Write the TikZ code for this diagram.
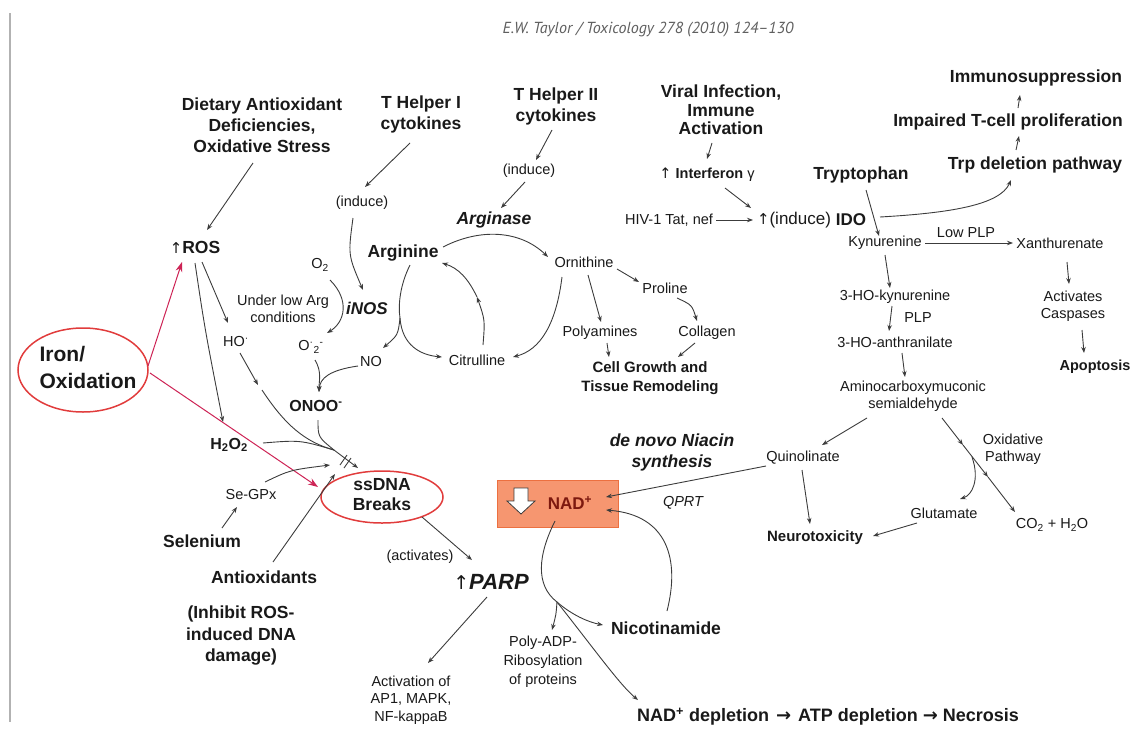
\documentclass[tikz,border=0pt]{standalone}
\usepackage{fontspec}
\setmainfont{Liberation Sans}
\newfontfamily\hdrfont{PT Sans}
\newfontfamily\arrfont{DejaVu Sans}
\usetikzlibrary{arrows.meta,shapes.geometric}
\definecolor{ln}{RGB}{60,60,60}
\definecolor{txt}{RGB}{25,25,25}
\definecolor{redarr}{RGB}{205,35,85}
\definecolor{ellred}{RGB}{225,60,60}
\definecolor{nadfill}{RGB}{246,150,112}
\definecolor{naddraw}{RGB}{236,112,64}
\definecolor{nadtext}{RGB}{125,25,15}
\definecolor{hdrgray}{RGB}{95,95,95}
\newcommand{\upa}{{\arrfont\mdseries\upshape ↑}}
\newcommand{\rta}{{\arrfont\bfseries →}}
\begin{document}
\begin{tikzpicture}[x=1pt,y=-1pt,
  every node/.style={inner sep=0pt, text=txt, align=center},
  pl/.style={font=\fontsize{14.5}{17.5}\selectfont},
  bl/.style={font=\bfseries\fontsize{17.5}{21}\selectfont},
  bm/.style={font=\bfseries\fontsize{15}{19}\selectfont},
  arr/.style={draw=ln, line width=0.9pt, -{Stealth[length=6pt,width=4.5pt]}},
  plainline/.style={draw=ln, line width=0.9pt},
  rarr/.style={draw=redarr, line width=1pt, -{Stealth[length=10pt,width=7pt]}},
]
\useasboundingbox (0,0) rectangle (1134,731);
\draw[gray!60, line width=1.2pt] (10,13) -- (10,722);

\node[font=\hdrfont\itshape\fontsize{16}{18}\selectfont, text=hdrgray] (hdr) at (648,30) {E.W. Taylor / Toxicology 278 (2010) 124–130};

% ---------- left / middle nodes ----------
\node[bl] (diet) at (262,125) {Dietary Antioxidant\\Deficiencies,\\Oxidative Stress};
\node[bl] (th1) at (421,114) {T Helper I\\cytokines};
\node[bl] (th2) at (556,106) {T Helper II\\cytokines};
\node[pl] (induceA) at (362,203) {(induce)};
\node[pl] (induceB) at (529,171) {(induce)};
\node[font=\bfseries\itshape\fontsize{17.5}{21}\selectfont] (arginase) at (494,220) {Arginase};
\node[bl] (arginine) at (403,253) {Arginine};
\node[pl] (orn) at (584,262) {Ornithine};
\node[pl] (proline) at (665,288) {Proline};
\node[pl] (collagen) at (707,333) {Collagen};
\node[pl] (polyam) at (600,333) {Polyamines};
\node[bm] (cellg) at (650,378) {Cell Growth and\\Tissue Remodeling};
\node[pl] (citr) at (477,360) {Citrulline};
\node[pl] (no) at (371,362) {NO};
\node[font=\bfseries\itshape\fontsize{17}{20}\selectfont] (inos) at (367,308) {iNOS};
\node[pl] (o2) at (320,265) {O\textsubscript{2}};
\node[pl] (under) at (283,309) {Under low Arg\\conditions};
\node[pl] (o2m) at (311,347) {O\textsuperscript{·}\textsubscript{2}\textsuperscript{-}};
\node[font=\bfseries\fontsize{16}{19}\selectfont] (onoo) at (316,406) {ONOO\textsuperscript{-}};
\node[bl] (ros) at (195,247) {{\fontsize{15}{18}\selectfont\upa}ROS};
\node[pl] (ho) at (236,342) {HO\textsuperscript{·}};
\node[font=\bfseries\fontsize{16}{19}\selectfont] (h2o2) at (229,445) {H\textsubscript{2}O\textsubscript{2}};
\node[draw=ellred, line width=1.5pt, ellipse, minimum width=130pt, minimum height=84pt] (ironell) at (83,370) {};
\node[font=\bfseries\fontsize{21}{27}\selectfont, align=left] (iron) at (88,367) {Iron/\\Oxidation};
\node[draw=ellred, line width=1.5pt, ellipse, minimum width=122pt, minimum height=52pt] (ssdnaell) at (382,497) {};
\node[font=\bfseries\fontsize{17.5}{20}\selectfont] (ssdna) at (382,495) {ssDNA\\Breaks};
\node[pl] (segpx) at (251,494) {Se-GPx};
\node[bl] (selen) at (202,541) {Selenium};
\node[bl] (antiox) at (264,577) {Antioxidants};
\node[font=\bfseries\fontsize{17.5}{21.5}\selectfont] (inhibit) at (241,636) {(Inhibit ROS-\\induced DNA\\damage)};
\node[pl] (activates) at (420,557) {(activates)};
\node[font=\fontsize{22}{26}\selectfont] (parp) at (491,582) {{\fontsize{19}{22}\selectfont\upa}\textbf{\textit{PARP}}};
\node[pl] (actof) at (411,700) {Activation of\\AP1, MAPK,\\NF-kappaB};

% ---------- NAD box ----------
\node[draw=naddraw, fill=nadfill, line width=1pt, minimum width=121pt, minimum height=47pt] (nadbox) at (557.5,503.5) {};
\draw[fill=white, draw=ln, line width=0.8pt] (514,488) -- (528,488) -- (528,501) -- (535,501) -- (521,514) -- (507,501) -- (514,501) -- cycle;
\node[font=\bfseries\fontsize{17}{20}\selectfont, text=nadtext] (nad) at (570,503) {NAD\textsuperscript{+}};
\node[font=\bfseries\itshape\fontsize{17.5}{21}\selectfont] (denovo) at (672,452) {de novo Niacin\\synthesis};
\node[font=\itshape\fontsize{14.5}{17.5}\selectfont] (qprt) at (683,503) {QPRT};
\node[bl] (nicot) at (666,628) {Nicotinamide};
\node[font=\fontsize{14.5}{19}\selectfont] (polyadp) at (543,662) {Poly-ADP-\\Ribosylation\\of proteins};
\node[font=\bfseries\fontsize{18}{21}\selectfont, anchor=west] (depl) at (637,717) {NAD\textsuperscript{+} depletion\hspace{7pt}\rta\hspace{7pt}ATP depletion \rta{} Necrosis};

% ---------- right side nodes ----------
\node[font=\bfseries\fontsize{17.5}{18.5}\selectfont] (viral) at (721,110) {Viral Infection,\\Immune\\Activation};
\node[pl] (ifn) at (707,175) {\upa{} \textbf{Interferon} γ};
\node[pl] (hiv) at (669,220) {HIV-1 Tat, nef};
\node[font=\fontsize{17}{20}\selectfont] (induce) at (794,220) {{\fontsize{15}{18}\selectfont\upa}(induce)};
\node[font=\bfseries\fontsize{17}{20}\selectfont] (ido) at (851,220) {IDO};
\node[bl] (tryp) at (861,175) {Tryptophan};
\node[bl] (immuno) at (1036,78) {Immunosuppression};
\node[bl] (impaired) at (1008,122) {Impaired T-cell proliferation};
\node[bl] (trpdel) at (1035,165) {Trp deletion pathway};
\node[pl] (kyn) at (885,243) {Kynurenine};
\node[pl] (xan) at (1060,243) {Xanthurenate};
\node[pl] (lowplp) at (966,233) {Low PLP};
\node[pl] (act) at (1073,306) {Activates\\Caspases};
\node[font=\bfseries\fontsize{14.5}{17}\selectfont] (apop) at (1095,367) {Apoptosis};
\node[pl] (hok) at (895,297) {3-HO-kynurenine};
\node[pl] (plp) at (918,318) {PLP};
\node[pl] (hoa) at (895,342) {3-HO-anthranilate};
\node[pl] (amino) at (913,396) {Aminocarboxymuconic\\semialdehyde};
\node[pl] (quin) at (803,458) {Quinolinate};
\node[pl] (oxpath) at (1013,449) {Oxidative\\Pathway};
\node[pl] (glu) at (944,513) {Glutamate};
\node[bm] (neuro) at (815,538) {Neurotoxicity};
\node[pl] (co2) at (1052,525) {CO\textsubscript{2} + H\textsubscript{2}O};

% ---------- coordinates ----------
\coordinate (hoarr) at (258,385);
\coordinate (conv) at (334,450);
\coordinate (inhibA) at (330,465);
\coordinate (inhibB) at (335,474);
\coordinate (argsplit) at (400,318);
\coordinate (citrmid) at (477,297);
\coordinate (oxA) at (963,445);
\coordinate (oxB) at (988,477);
\coordinate (oxC) at (972,457);
\coordinate (nadsplit) at (557,602);

% ---------- connectors: left ----------
\draw[arr] ([shift={(-9,38)}]diet.center) -- ([shift={(12,-17)}]ros.center);
\draw[rarr] ([shift={(65,-4)}]ironell.center) -- ([shift={(-13,15)}]ros.center);
\draw[rarr] ([shift={(67,3)}]ironell.center) -- ([shift={(-64,-10)}]ssdnaell.center);
\draw[arr] ([shift={(7,15)}]ros.center) -- ([shift={(-8,-19)}]ho.center);
\draw[arr] ([shift={(0,16)}]ros.center) .. controls (205,330) .. ([shift={(-6,-23)}]h2o2.center);
\draw[arr] ([shift={(4,11)}]ho.center) -- (hoarr);
\draw[plainline] ([shift={(4,5)}]hoarr) .. controls (285,425) and (305,442) .. (conv);
\draw[plainline] ([shift={(2,14)}]onoo.center) .. controls (318,437) .. (conv);
\draw[plainline] ([shift={(34,-2)}]h2o2.center) .. controls (300,440) .. (conv);
\draw[arr] (conv) -- ([shift={(-24,-29)}]ssdnaell.center);
\draw[plainline] (340,465) -- (347,455) (344,468) -- (351,458);
\draw[arr] ([shift={(14,-12)}]segpx.center) .. controls (290,470) .. (inhibA);
\draw[arr] ([shift={(9,-15)}]antiox.center) -- (inhibB);
\draw[arr] ([shift={(20,-13)}]selen.center) -- ([shift={(-14,13)}]segpx.center);
\draw[arr] ([shift={(40,20)}]ssdnaell.center) -- ([shift={(-19,-22)}]parp.center);
\draw[arr] ([shift={(-4,15)}]parp.center) -- ([shift={(17,-37)}]actof.center);

% ---------- connectors: arginine area ----------
\draw[arr] ([shift={(-11,29)}]th1.center) -- ([shift={(3,-16)}]induceA.center);
\draw[arr] ([shift={(-9,15)}]induceA.center) .. controls (348,255) .. ([shift={(-4,-18)}]inos.center);
\draw[arr] ([shift={(10,15)}]o2.center) .. controls (350,300) and (345,322) .. ([shift={(16,-14)}]o2m.center);
\draw[plainline] ([shift={(7,12)}]arginine.center) .. controls (400,285) and (398,305) .. (argsplit);
\draw[arr] (argsplit) .. controls (398,335) .. ([shift={(12,-14)}]no.center);
\draw[arr] (argsplit) .. controls (402,345) and (420,355) .. ([shift={(-35,-3)}]citr.center);
\draw[arr] ([shift={(-13,4)}]no.center) .. controls (330,370) and (320,378) .. ([shift={(3,-14)}]onoo.center);
\draw[arr] ([shift={(4,13)}]o2m.center) .. controls (322,372) and (319,380) .. ([shift={(3,-14)}]onoo.center);
\draw[arr] ([shift={(-4,24)}]th2.center) -- ([shift={(7,-11)}]induceB.center);
\draw[arr] ([shift={(-4,11)}]induceB.center) -- ([shift={(7,-12)}]arginase.center);
\draw[arr] ([shift={(40,-6)}]arginine.center) .. controls (480,228) and (520,230) .. ([shift={(-36,-5)}]orn.center);
\draw[arr] ([shift={(33,7)}]orn.center) -- ([shift={(-26,-6)}]proline.center);
\draw[arr] ([shift={(12,10)}]proline.center) .. controls (692,305) .. ([shift={(-10,-12)}]collagen.center);
\draw[arr] ([shift={(-12,10)}]collagen.center) -- ([shift={(28,-21)}]cellg.center);
\draw[arr] ([shift={(4,13)}]orn.center) -- ([shift={(1,-11)}]polyam.center);
\draw[arr] ([shift={(7,10)}]polyam.center) -- ([shift={(-41,-21)}]cellg.center);
\draw[arr] ([shift={(-22,15)}]orn.center) .. controls (556,325) and (540,350) .. ([shift={(36,-3)}]citr.center);
\draw[arr] ([shift={(6,-15)}]citr.center) .. controls (485,320) .. (citrmid);
\draw[arr] (citrmid) .. controls (468,278) and (458,268) .. ([shift={(39,10)}]arginine.center);

% ---------- connectors: NAD area ----------
\draw[arr] ([shift={(-37,8)}]quin.center) -- ([shift={(36,-6)}]nad.center);
\draw[arr] ([shift={(1,-17)}]nicot.center) .. controls (680,560) and (668,515) .. ([shift={(36,7)}]nad.center);
\draw[plainline] ([shift={(-15,18)}]nad.center) .. controls (538,555) and (535,585) .. (nadsplit);
\draw[arr] (nadsplit) .. controls (572,615) and (588,622) .. ([shift={(-63,-3)}]nicot.center);
\draw[arr] (nadsplit) .. controls (556,615) .. ([shift={(9,-32)}]polyadp.center);
\draw[arr] (nadsplit) .. controls (595,650) and (620,685) .. ([shift={(1,-17)}]depl.west);

% ---------- connectors: right ----------
\draw[arr] ([shift={(-9,33)}]viral.center) -- ([shift={(0,-16)}]ifn.center);
\draw[arr] ([shift={(18,13)}]ifn.center) -- ([shift={(-43,-12)}]induce.center);
\draw[arr] ([shift={(47,0)}]hiv.center) -- ([shift={(-41,0)}]induce.center);
\draw[arr] ([shift={(5,15)}]tryp.center) -- ([shift={(-6,-7)}]kyn.center);
\draw[arr] ([shift={(29,-3)}]ido.center) .. controls (950,213) and (1000,205) .. ([shift={(-24,15)}]trpdel.center);
\draw[arr] ([shift={(-19,-15)}]trpdel.center) -- ([shift={(11,14)}]impaired.center);
\draw[arr] ([shift={(10,-14)}]impaired.center) -- ([shift={(-16,17)}]immuno.center);
\draw[arr] ([shift={(40,0)}]kyn.center) -- ([shift={(-47,0)}]xan.center);
\draw[arr] ([shift={(7,19)}]xan.center) -- ([shift={(-4,-22)}]act.center);
\draw[arr] ([shift={(9,24)}]act.center) -- ([shift={(-11,-14)}]apop.center);
\draw[arr] ([shift={(0,12)}]kyn.center) -- ([shift={(-5,-9)}]hok.center);
\draw[arr] ([shift={(-3,9)}]hok.center) -- ([shift={(-6,-11)}]hoa.center);
\draw[arr] ([shift={(7,11)}]hoa.center) -- ([shift={(-8,-19)}]amino.center);
\draw[arr] ([shift={(-46,22)}]amino.center) -- ([shift={(19,-13)}]quin.center);
\draw[arr] ([shift={(29,22)}]amino.center) -- (oxA);
\draw[arr] (oxA) -- (oxB);
\draw[arr] (oxB) -- ([shift={(-37,-13)}]co2.center);
\draw[arr] (oxC) .. controls (980,480) and (972,495) .. ([shift={(16,-14)}]glu.center);
\draw[arr] ([shift={(-27,10)}]glu.center) -- ([shift={(58,-2)}]neuro.center);
\draw[arr] ([shift={(-1,12)}]quin.center) -- ([shift={(-5,-14)}]neuro.center);
\end{tikzpicture}
\end{document}
